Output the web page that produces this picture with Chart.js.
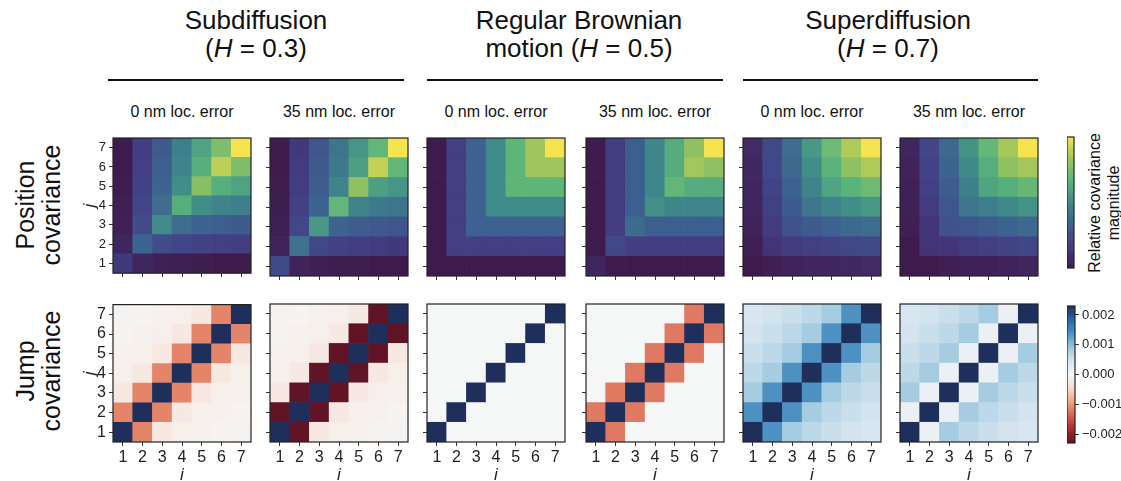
<!DOCTYPE html>
<html>
<head>
<meta charset="utf-8">
<script src="https://cdn.jsdelivr.net/npm/chart.js@4.4.1/dist/chart.umd.min.js"></script>
<style>
  html, body { margin: 0; padding: 0; background: #fff; }
  body {
    width: 1121px; height: 481px; position: relative; overflow: hidden;
    font-family: "Liberation Sans", Arial, sans-serif; color: #111;
  }
  canvas { position: absolute; }
  .txt { position: absolute; text-align: center; white-space: nowrap; }
  .title { font-size: 26px; line-height: 28px; width: 340px; }
  .sub { font-size: 16px; line-height: 18px; width: 160px; }
  .hline { position: absolute; height: 2px; background: #111; }
  .rot { position: absolute; transform: rotate(-90deg); text-align: center; white-space: nowrap; }
</style>
</head>
<body>

<div class="txt title" style="left:86px; top:6px;">Subdiffusion<br>(<i>H</i> = 0.3)</div>
<div class="txt title" style="left:409px; top:6px;">Regular Brownian<br>motion (<i>H</i> = 0.5)</div>
<div class="txt title" style="left:718px; top:6px;">Superdiffusion<br>(<i>H</i> = 0.7)</div>

<div class="hline" style="left:108px; top:79px; width:296px;"></div>
<div class="hline" style="left:427px; top:79px; width:296px;"></div>
<div class="hline" style="left:743px; top:79px; width:295px;"></div>

<div id="subtitles"></div>

<div class="rot" style="left:-62px; top:179px; width:200px; font-size:25px; line-height:26px;">Position<br>covariance</div>
<div class="rot" style="left:-62px; top:345px; width:200px; font-size:25px; line-height:26px;">Jump<br>covariance</div>
<div class="rot" style="left:1024px; top:184px; width:160px; font-size:16px; line-height:19px;">Relative covariance<br>magnitude</div>

<script>
// ---- data ----
const categories = ["1", "2", "3", "4", "5", "6", "7"];
const panelTitles = ["0 nm loc. error", "35 nm loc. error"];

// relative position covariance, rows are j = 1..7, columns i = 1..7
const posSub0 = [
  [0.14, 0.05, 0.03, 0.02, 0.01, 0.00, 0.00],
  [0.05, 0.34, 0.23, 0.20, 0.18, 0.17, 0.16],
  [0.03, 0.23, 0.50, 0.38, 0.34, 0.32, 0.30],
  [0.02, 0.20, 0.38, 0.64, 0.51, 0.47, 0.45],
  [0.01, 0.18, 0.34, 0.51, 0.77, 0.64, 0.59],
  [0.00, 0.17, 0.32, 0.47, 0.64, 0.89, 0.75],
  [0.00, 0.16, 0.30, 0.45, 0.59, 0.75, 1.00]
];
const posSub35 = [
  [0.22, 0.04, 0.02, 0.01, 0.01, 0.00, 0.00],
  [0.04, 0.40, 0.21, 0.18, 0.16, 0.15, 0.14],
  [0.02, 0.21, 0.55, 0.34, 0.31, 0.29, 0.28],
  [0.01, 0.18, 0.34, 0.68, 0.47, 0.43, 0.41],
  [0.01, 0.16, 0.31, 0.47, 0.79, 0.58, 0.54],
  [0.00, 0.15, 0.29, 0.43, 0.58, 0.90, 0.68],
  [0.00, 0.14, 0.28, 0.41, 0.54, 0.68, 1.00]
];
const posBm0 = [
  [0.00, 0.00, 0.00, 0.00, 0.00, 0.00, 0.00],
  [0.00, 0.17, 0.17, 0.17, 0.17, 0.17, 0.17],
  [0.00, 0.17, 0.33, 0.33, 0.33, 0.33, 0.33],
  [0.00, 0.17, 0.33, 0.50, 0.50, 0.50, 0.50],
  [0.00, 0.17, 0.33, 0.50, 0.67, 0.67, 0.67],
  [0.00, 0.17, 0.33, 0.50, 0.67, 0.83, 0.83],
  [0.00, 0.17, 0.33, 0.50, 0.67, 0.83, 1.00]
];
const posBm35 = [
  [0.05, 0.00, 0.00, 0.00, 0.00, 0.00, 0.00],
  [0.00, 0.21, 0.16, 0.16, 0.16, 0.16, 0.16],
  [0.00, 0.16, 0.37, 0.32, 0.32, 0.32, 0.32],
  [0.00, 0.16, 0.32, 0.52, 0.48, 0.48, 0.48],
  [0.00, 0.16, 0.32, 0.48, 0.68, 0.63, 0.63],
  [0.00, 0.16, 0.32, 0.48, 0.63, 0.84, 0.79],
  [0.00, 0.16, 0.32, 0.48, 0.63, 0.79, 1.00]
];
const posSup0 = [
  [0.00, 0.02, 0.04, 0.05, 0.05, 0.06, 0.07],
  [0.02, 0.12, 0.15, 0.17, 0.19, 0.21, 0.22],
  [0.04, 0.15, 0.26, 0.30, 0.33, 0.36, 0.38],
  [0.05, 0.17, 0.30, 0.42, 0.47, 0.51, 0.55],
  [0.05, 0.19, 0.33, 0.47, 0.60, 0.66, 0.71],
  [0.06, 0.21, 0.36, 0.51, 0.66, 0.79, 0.86],
  [0.07, 0.22, 0.38, 0.55, 0.71, 0.86, 1.00]
];
const posSup35 = [
  [0.00, 0.00, 0.02, 0.03, 0.03, 0.04, 0.05],
  [0.00, 0.12, 0.13, 0.15, 0.17, 0.19, 0.20],
  [0.02, 0.13, 0.26, 0.28, 0.31, 0.34, 0.36],
  [0.03, 0.15, 0.28, 0.42, 0.45, 0.49, 0.53],
  [0.03, 0.17, 0.31, 0.45, 0.60, 0.64, 0.69],
  [0.04, 0.19, 0.34, 0.49, 0.64, 0.79, 0.84],
  [0.05, 0.20, 0.36, 0.53, 0.69, 0.84, 1.00]
];

// jump covariance, rows are j = 1..7, columns i = 1..7
const jumpSub0 = [
  [0.0047, -0.00115, -0.00023, -0.00013, -0.00008, -0.00006, -0.00005],
  [-0.00115, 0.0047, -0.00115, -0.00023, -0.00013, -0.00008, -0.00006],
  [-0.00023, -0.00115, 0.0047, -0.00115, -0.00023, -0.00013, -0.00008],
  [-0.00013, -0.00023, -0.00115, 0.0047, -0.00115, -0.00023, -0.00013],
  [-0.00008, -0.00013, -0.00023, -0.00115, 0.0047, -0.00115, -0.00023],
  [-0.00006, -0.00008, -0.00013, -0.00023, -0.00115, 0.0047, -0.00115],
  [-0.00005, -0.00006, -0.00008, -0.00013, -0.00023, -0.00115, 0.0047]
];
const jumpSub35 = [
  [0.0072, -0.0024, -0.00023, -0.00013, -0.00008, -0.00006, -0.00005],
  [-0.0024, 0.0072, -0.0024, -0.00023, -0.00013, -0.00008, -0.00006],
  [-0.00023, -0.0024, 0.0072, -0.0024, -0.00023, -0.00013, -0.00008],
  [-0.00013, -0.00023, -0.0024, 0.0072, -0.0024, -0.00023, -0.00013],
  [-0.00008, -0.00013, -0.00023, -0.0024, 0.0072, -0.0024, -0.00023],
  [-0.00006, -0.00008, -0.00013, -0.00023, -0.0024, 0.0072, -0.0024],
  [-0.00005, -0.00006, -0.00008, -0.00013, -0.00023, -0.0024, 0.0072]
];
const jumpBm0 = [
  [0.004, 0, 0, 0, 0, 0, 0],
  [0, 0.004, 0, 0, 0, 0, 0],
  [0, 0, 0.004, 0, 0, 0, 0],
  [0, 0, 0, 0.004, 0, 0, 0],
  [0, 0, 0, 0, 0.004, 0, 0],
  [0, 0, 0, 0, 0, 0.004, 0],
  [0, 0, 0, 0, 0, 0, 0.004]
];
const jumpBm35 = [
  [0.0065, -0.00123, 0, 0, 0, 0, 0],
  [-0.00123, 0.0065, -0.00123, 0, 0, 0, 0],
  [0, -0.00123, 0.0065, -0.00123, 0, 0, 0],
  [0, 0, -0.00123, 0.0065, -0.00123, 0, 0],
  [0, 0, 0, -0.00123, 0.0065, -0.00123, 0],
  [0, 0, 0, 0, -0.00123, 0.0065, -0.00123],
  [0, 0, 0, 0, 0, -0.00123, 0.0065]
];
const jumpSup0 = [
  [0.0043, 0.00137, 0.00081, 0.00063, 0.00053, 0.00046, 0.00041],
  [0.00137, 0.0043, 0.00137, 0.00081, 0.00063, 0.00053, 0.00046],
  [0.00081, 0.00137, 0.0043, 0.00137, 0.00081, 0.00063, 0.00053],
  [0.00063, 0.00081, 0.00137, 0.0043, 0.00137, 0.00081, 0.00063],
  [0.00053, 0.00063, 0.00081, 0.00137, 0.0043, 0.00137, 0.00081],
  [0.00046, 0.00053, 0.00063, 0.00081, 0.00137, 0.0043, 0.00137],
  [0.00041, 0.00046, 0.00053, 0.00063, 0.00081, 0.00137, 0.0043]
];
const jumpSup35 = [
  [0.0068, 0.00015, 0.00081, 0.00063, 0.00053, 0.00046, 0.00041],
  [0.00015, 0.0068, 0.00015, 0.00081, 0.00063, 0.00053, 0.00046],
  [0.00081, 0.00015, 0.0068, 0.00015, 0.00081, 0.00063, 0.00053],
  [0.00063, 0.00081, 0.00015, 0.0068, 0.00015, 0.00081, 0.00063],
  [0.00053, 0.00063, 0.00081, 0.00015, 0.0068, 0.00015, 0.00081],
  [0.00046, 0.00053, 0.00063, 0.00081, 0.00015, 0.0068, 0.00015],
  [0.00041, 0.00046, 0.00053, 0.00063, 0.00081, 0.00015, 0.0068]
];

const jumpTicks = [-0.002, -0.001, 0, 0.001, 0.002];
const jumpLimit = 0.0023;

// ---- colour maps ----
const viridisStops = ["#3f1b4d", "#433e85", "#3d6290", "#3f8b8a", "#5cb57b", "#a1c55b", "#f5e34f"];
const rdbuStops = ["#611425", "#b0272f", "#d6634f", "#f1a685", "#f9dccb", "#f5f6f6",
                   "#d3e4ef", "#97c4dd", "#4b8fc1", "#2863a6", "#1f2f5c"];

function hexToRgb(h) {
  return [1, 3, 5].map((k) => parseInt(h.slice(k, k + 2), 16));
}

function sampleMap(stops, t) {
  t = Math.max(0, Math.min(1, t));
  const pos = t * (stops.length - 1);
  const i = Math.min(Math.floor(pos), stops.length - 2);
  const f = pos - i;
  const a = hexToRgb(stops[i]);
  const b = hexToRgb(stops[i + 1]);
  const c = a.map((v, k) => Math.round(v + (b[k] - v) * f));
  return `rgb(${c[0]}, ${c[1]}, ${c[2]})`;
}

const posColor = (v) => sampleMap(viridisStops, v);
const jumpColor = (v) => sampleMap(rdbuStops, (v + jumpLimit) / (2 * jumpLimit));

// ---- layout ----
const panelLefts = [113, 270, 427, 586, 743, 900];
const rowTops = [138, 304];
const size = 138;
const padTop = 12;
const padRight = 12;
const axisW = 34;

const framePlugin = {
  id: "frame",
  afterDraw(chart) {
    const { ctx, chartArea: a } = chart;
    ctx.save();
    ctx.strokeStyle = "#222";
    ctx.lineWidth = 1.2;
    ctx.strokeRect(a.left, a.top, a.right - a.left, a.bottom - a.top);
    ctx.restore();
  },
};

function addCanvas(left, top, w, h) {
  const c = document.createElement("canvas");
  c.width = w;
  c.height = h;
  c.style.left = left + "px";
  c.style.top = top + "px";
  document.body.appendChild(c);
  return c;
}

function makeHeatmap(matrix, colorFn, row, col) {
  const isBottom = row === 1;
  const isFirst = col === 0;
  const axisH = isBottom ? 45 : 8;
  const left = panelLefts[col] - axisW;
  const top = rowTops[row] - padTop;
  const canvas = addCanvas(left, top, axisW + size + padRight, padTop + size + axisH);

  const datasets = matrix.map((rowVals, r) => ({
    data: categories.map(() => [r + 0.5, r + 1.5]),
    backgroundColor: rowVals.map(colorFn),
    borderWidth: 0,
  }));

  const gridOpts = {
    offset: false,
    drawOnChartArea: false,
    drawTicks: true,
    tickLength: 4,
    color: "#333",
    lineWidth: 1,
  };

  new Chart(canvas, {
    type: "bar",
    data: { labels: categories, datasets },
    options: {
      responsive: false,
      animation: false,
      devicePixelRatio: 1,
      events: [],
      layout: { padding: { top: padTop, right: padRight, left: 0, bottom: 0 } },
      plugins: { legend: { display: false }, tooltip: { enabled: false } },
      datasets: { bar: { grouped: false, barPercentage: 1, categoryPercentage: 1 } },
      scales: {
        x: {
          type: "category",
          offset: true,
          grid: gridOpts,
          border: { display: false },
          ticks: {
            display: isBottom,
            color: "#222",
            font: { family: "Liberation Sans", size: 16 },
            padding: 2,
            maxRotation: 0,
            autoSkip: false,
          },
          title: {
            display: isBottom,
            text: "i",
            color: "#222",
            font: { family: "Liberation Sans", size: 17, style: "italic" },
            padding: { top: 0, bottom: 2 },
          },
          afterFit: (s) => { s.height = axisH; },
        },
        y: {
          type: "linear",
          min: 0.5,
          max: 7.5,
          afterBuildTicks: (s) => { s.ticks = categories.map((c, k) => ({ value: k + 1 })); },
          grid: gridOpts,
          border: { display: false },
          ticks: {
            display: isFirst,
            color: "#222",
            font: { family: "Liberation Sans", size: isBottom ? 16 : 13 },
            padding: 3,
            callback: (v) => categories[Math.round(v) - 1],
          },
          title: {
            display: isFirst,
            text: "j",
            color: "#222",
            font: { family: "Liberation Sans", size: 17, style: "italic" },
            padding: { top: 1, bottom: 0 },
          },
          afterFit: (s) => { s.width = axisW; },
        },
      },
    },
    plugins: [framePlugin],
  });
}

function makeColorbar(stops, top, height, lo, hi, ticks) {
  const barW = 7;
  const tickW = ticks ? 54 : 0;
  const pad = ticks ? 14 : 1;
  const canvas = addCanvas(1067, top - pad, barW + tickW + 1, height + 2 * pad);
  const n = 120;
  const step = (hi - lo) / n;
  const datasets = [];
  for (let k = 0; k < n; k++) {
    const a = lo + k * step;
    datasets.push({
      data: [[a, a + step]],
      backgroundColor: sampleMap(stops, (k + 0.5) / n),
      borderWidth: 0,
    });
  }
  new Chart(canvas, {
    type: "bar",
    data: { labels: ["c"], datasets },
    options: {
      responsive: false,
      animation: false,
      devicePixelRatio: 1,
      events: [],
      layout: { padding: { top: pad, bottom: pad, left: 0, right: ticks ? 0 : 1 } },
      plugins: { legend: { display: false }, tooltip: { enabled: false } },
      datasets: { bar: { grouped: false, barPercentage: 1, categoryPercentage: 1 } },
      scales: {
        x: { display: false, offset: true },
        y: {
          display: !!ticks,
          position: "right",
          min: lo,
          max: hi,
          afterBuildTicks: (s) => { if (ticks) s.ticks = ticks.map((v) => ({ value: v })); },
          grid: { drawOnChartArea: false, tickLength: 4, color: "#333" },
          border: { display: false },
          ticks: {
            color: "#222",
            font: { family: "Liberation Sans", size: 13 },
            padding: 3,
            callback: (v) => (v < 0 ? "\u2212" : "") + Math.abs(v).toFixed(3),
          },
          afterFit: (s) => { s.width = tickW; },
        },
      },
    },
    plugins: [framePlugin],
  });
}

// ---- build ----
const posPanels = [posSub0, posSub35, posBm0, posBm35, posSup0, posSup35];
const jumpPanels = [jumpSub0, jumpSub35, jumpBm0, jumpBm35, jumpSup0, jumpSup35];

const subBox = document.getElementById("subtitles");
panelLefts.forEach((x, k) => {
  const d = document.createElement("div");
  d.className = "txt sub";
  d.style.left = (x + size / 2 - 80) + "px";
  d.style.top = "103px";
  d.textContent = panelTitles[k % 2];
  subBox.appendChild(d);
});

posPanels.forEach((m, k) => makeHeatmap(m, posColor, 0, k));
jumpPanels.forEach((m, k) => makeHeatmap(m, jumpColor, 1, k));

makeColorbar(viridisStops, 137, 131, 0, 1, null);
makeColorbar(rdbuStops, 306, 137, -jumpLimit, jumpLimit, jumpTicks);
</script>
</body>
</html>
